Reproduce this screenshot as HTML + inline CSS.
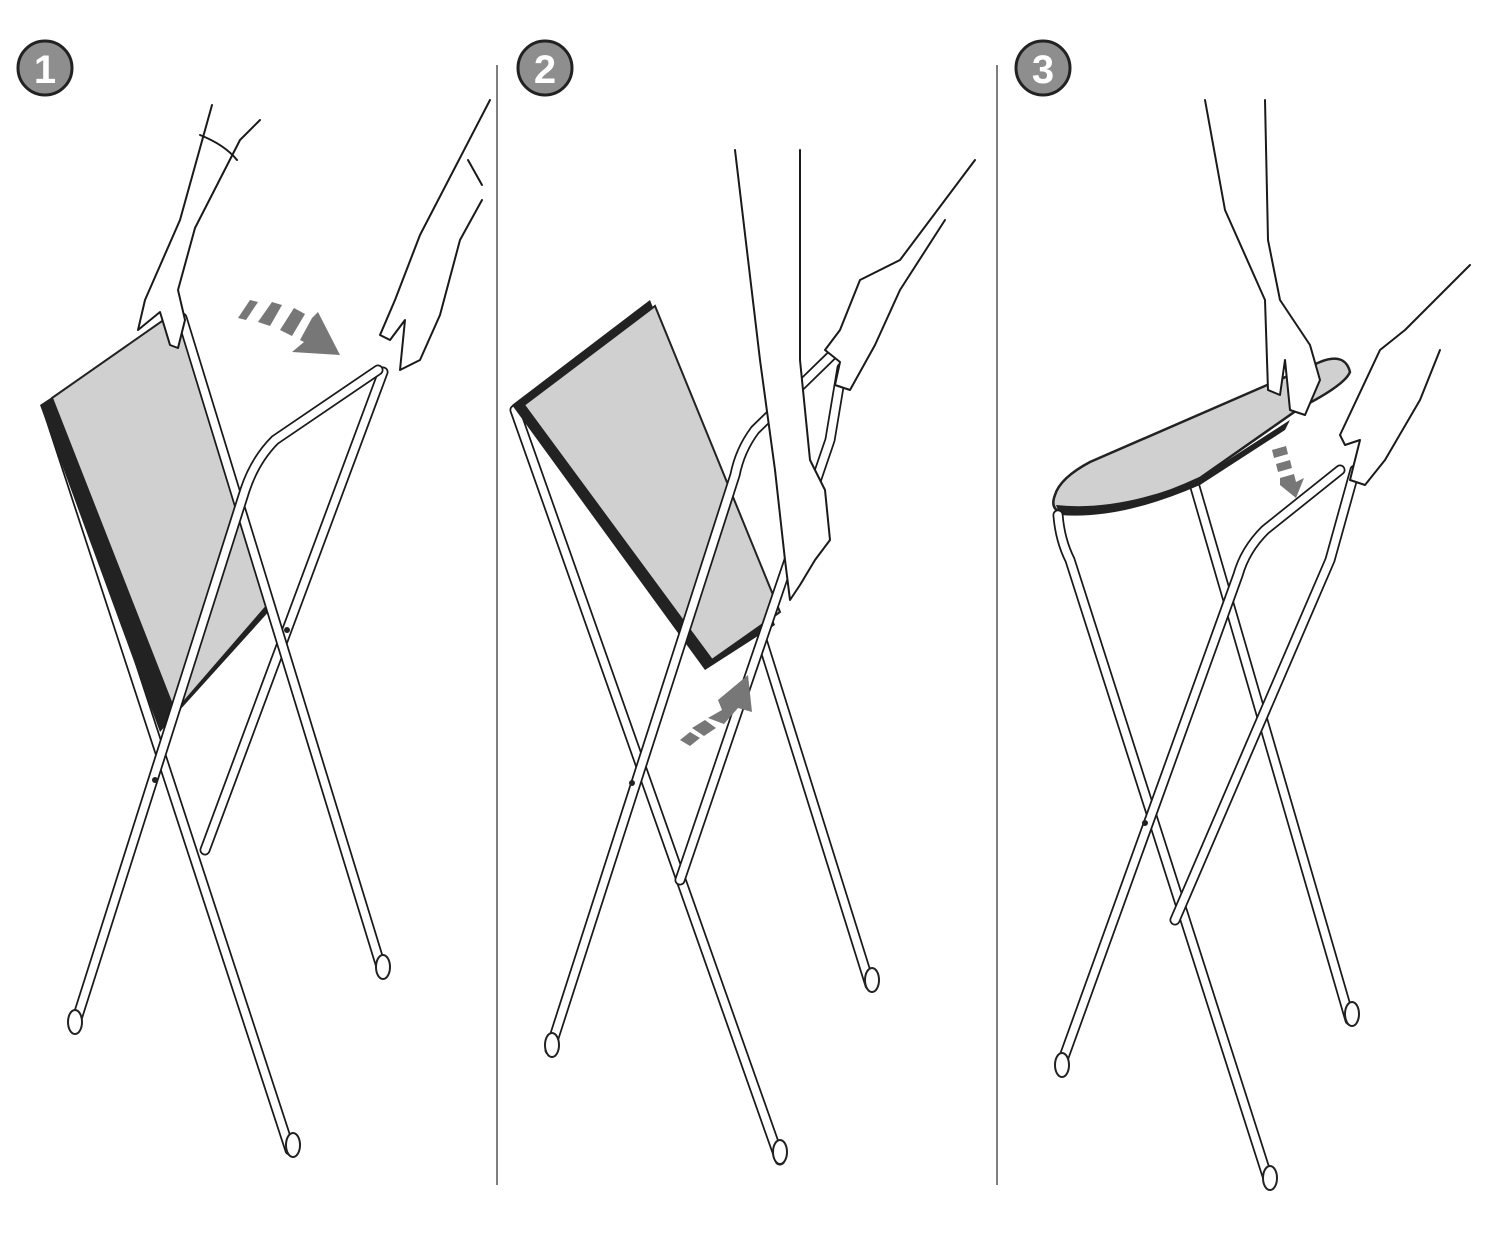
<!DOCTYPE html>
<html><head><meta charset="utf-8"><style>
html,body{margin:0;padding:0;background:#fff;}
svg{display:block}
.t1{fill:none;stroke:#1a1a1a;stroke-width:11;stroke-linecap:round;stroke-linejoin:round}
.t2{fill:none;stroke:#fff;stroke-width:7.5;stroke-linecap:round;stroke-linejoin:round}
.h{fill:#fff;stroke:#1a1a1a;stroke-width:2;stroke-linejoin:round;stroke-linecap:round}
.ln{fill:none;stroke:#1a1a1a;stroke-width:2;stroke-linecap:round}
.num{font-family:"Liberation Sans",sans-serif;font-weight:bold;font-size:40px;fill:#fff;text-anchor:middle}
</style></head><body>
<svg width="1500" height="1250" viewBox="0 0 1500 1250" xmlns="http://www.w3.org/2000/svg">
<rect width="1500" height="1250" fill="#fff"/>
<line x1="497" y1="65" x2="497" y2="1185" stroke="#555" stroke-width="1.5"/>
<line x1="997" y1="65" x2="997" y2="1185" stroke="#555" stroke-width="1.5"/>
<g>
<circle cx="45" cy="68" r="27" fill="#8e8e8e" stroke="#222" stroke-width="3"/><text class="num" x="45" y="83">1</text>
<circle cx="545" cy="68" r="27" fill="#8e8e8e" stroke="#222" stroke-width="3"/><text class="num" x="545" y="83">2</text>
<circle cx="1043" cy="68" r="27" fill="#8e8e8e" stroke="#222" stroke-width="3"/><text class="num" x="1043" y="83">3</text>
</g>

<!-- PANEL 1 -->
<g>
<path class="t1" d="M48 410 L290 1150"/><path class="t2" d="M48 410 L290 1150"/>
<path class="t1" d="M383 372 L205 850"/><path class="t2" d="M383 372 L205 850"/>
<polygon points="40,405 172,318 272,608 160,732" fill="#222"/>
<polygon points="52,398 175,312 272,600 175,712" fill="#d0d0d0" stroke="#222" stroke-width="2"/>
<path class="t1" d="M182 318 L382 970"/><path class="t2" d="M182 318 L382 970"/>
<path class="t1" d="M378 370 L275 440 Q255 460 245 490 L75 1025"/><path class="t2" d="M378 370 L275 440 Q255 460 245 490 L75 1025"/>
<circle cx="155" cy="780" r="3" fill="#222"/><circle cx="287" cy="630" r="3" fill="#222"/>
<ellipse cx="75" cy="1022" rx="7" ry="12" fill="#fff" stroke="#222" stroke-width="2"/>
<ellipse cx="293" cy="1145" rx="7" ry="12" fill="#fff" stroke="#222" stroke-width="2"/>
<ellipse cx="383" cy="967" rx="7" ry="12" fill="#fff" stroke="#222" stroke-width="2"/>
<!-- hands -->
<path class="h" d="M212 105 L180 220 L145 300 L138 330 L160 312 L170 345 L178 348 L185 320 L178 290 L195 228 L240 140 L260 120"/>
<path class="ln" d="M200 135 Q225 145 237 160"/>
<path class="h" d="M490 100 L420 235 L395 300 L380 335 L390 340 L405 320 L400 370 L420 360 L440 315 L460 240 L482 200"/>
<path class="ln" d="M468 160 L482 185"/>
<!-- arrow -->
<path d="M238 318 L250 300 L258 302 L246 320Z M258 322 L272 302 L282 305 L270 326Z M280 330 L294 308 L305 314 L292 336Z M300 340 L312 318 L318 312 L340 355 L292 352 L304 342Z" fill="#777"/>
</g>

<!-- PANEL 2 -->
<g>
<path class="t1" d="M515 410 L780 1160"/><path class="t2" d="M515 410 L780 1160"/>
<polygon points="512,405 650,300 775,625 705,670" fill="#222"/>
<polygon points="524,405 655,306 780,612 712,660" fill="#d0d0d0" stroke="#222" stroke-width="2"/>
<path class="t1" d="M762 640 L870 985"/><path class="t2" d="M762 640 L870 985"/>
<path class="t1" d="M842 368 L830 440 L680 880"/><path class="t2" d="M842 368 L830 440 L680 880"/>
<path class="t1" d="M832 355 L755 430 Q740 450 735 475 L550 1050"/><path class="t2" d="M832 355 L755 430 Q740 450 735 475 L550 1050"/>
<circle cx="632" cy="783" r="3" fill="#222"/>
<ellipse cx="552" cy="1045" rx="7" ry="12" fill="#fff" stroke="#222" stroke-width="2"/>
<ellipse cx="780" cy="1152" rx="7" ry="12" fill="#fff" stroke="#222" stroke-width="2"/>
<ellipse cx="872" cy="980" rx="7" ry="12" fill="#fff" stroke="#222" stroke-width="2"/>
<path class="h" d="M735 150 L760 360 L775 470 L785 560 L790 600 L800 585 L815 560 L830 540 L825 490 L810 460 L800 360 L800 150"/>
<path class="h" d="M975 160 L900 260 L860 280 L840 330 L825 350 L840 362 L835 385 L850 390 L875 345 L900 290 L945 220"/>
<path d="M680 740 L690 732 L700 738 L690 746Z M692 728 L705 720 L716 728 L704 736Z M708 718 L722 710 L718 700 L748 675 L752 712 L738 708 L724 724Z" fill="#777"/>
</g>

<!-- PANEL 3 -->
<g>
<path class="t1" d="M1193 480 L1350 1020"/><path class="t2" d="M1193 480 L1350 1020"/>
<path d="M1055 495 Q1060 478 1090 462 L1320 362 Q1345 352 1350 372 Q1345 385 1300 408 L1200 478 Q1120 515 1060 512 Q1050 508 1055 495Z" fill="#d0d0d0" stroke="#222" stroke-width="2.5"/>
<path d="M1056 505 Q1120 512 1200 478 L1290 420 L1285 430 L1200 485 Q1120 520 1060 515Z" fill="#222"/>
<path class="t1" d="M1058 515 Q1060 540 1070 560 L1270 1185"/><path class="t2" d="M1058 515 Q1060 540 1070 560 L1270 1185"/>
<path class="t1" d="M1340 470 L1265 530 Q1245 550 1238 575 L1060 1068"/><path class="t2" d="M1340 470 L1265 530 Q1245 550 1238 575 L1060 1068"/>
<path class="t1" d="M1355 470 L1330 560 L1175 920"/><path class="t2" d="M1355 470 L1330 560 L1175 920"/>
<circle cx="1145" cy="823" r="3" fill="#222"/>
<ellipse cx="1062" cy="1065" rx="7" ry="12" fill="#fff" stroke="#222" stroke-width="2"/>
<ellipse cx="1270" cy="1178" rx="7" ry="12" fill="#fff" stroke="#222" stroke-width="2"/>
<ellipse cx="1352" cy="1014" rx="7" ry="12" fill="#fff" stroke="#222" stroke-width="2"/>
<path class="h" d="M1205 100 L1225 210 L1265 300 L1268 390 L1280 395 L1285 360 L1290 410 L1305 415 L1320 380 L1310 345 L1280 300 L1268 240 L1265 100"/>
<path class="h" d="M1470 265 L1405 330 L1380 350 L1340 435 L1345 445 L1360 440 L1350 480 L1365 485 L1385 460 L1420 400 L1440 350"/>
<path d="M1272 450 L1286 446 L1288 454 L1274 458Z M1276 464 L1290 460 L1292 468 L1278 472Z M1280 478 L1294 474 L1296 482 L1304 478 L1296 498 L1280 485Z" fill="#777"/>
</g>
</svg>
</body></html>
